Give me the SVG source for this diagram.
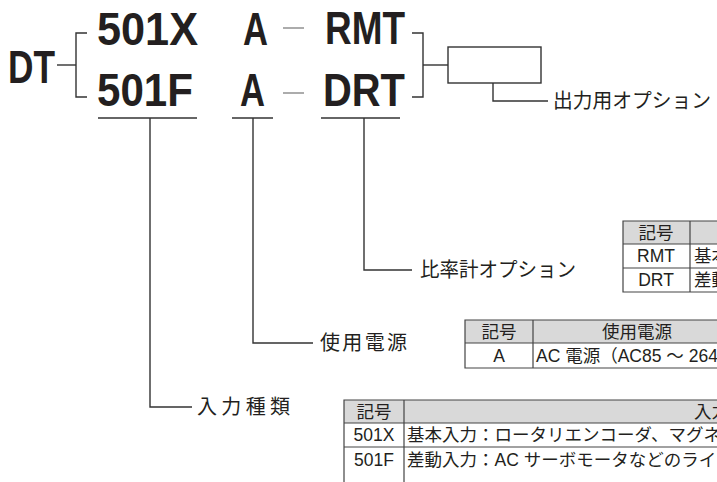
<svg xmlns="http://www.w3.org/2000/svg" width="717" height="482" viewBox="0 0 717 482">
<style>
.big{font-family:"Liberation Sans",Arial,sans-serif;font-weight:bold;font-size:46px;fill:#231f20}
.lbl{font-family:"Noto Sans CJK JP","Noto Sans",sans-serif;font-size:20px;fill:#231f20}
.tt{font-family:"Liberation Sans","Noto Sans CJK JP",sans-serif;font-size:17.5px;fill:#231f20}
.ln{stroke:#333;stroke-width:1.4;fill:none}
.dash{stroke:#888;stroke-width:1.4}
.tb{stroke:#444;stroke-width:1.2;fill:none}
.hd{fill:#d9d9d9}
</style>
<rect width="717" height="482" fill="#fff"/>
<g id="code">
<text class="big" x="8" y="83" textLength="47" lengthAdjust="spacingAndGlyphs">DT</text>
<text class="big" x="97" y="45" textLength="101" lengthAdjust="spacingAndGlyphs">501X</text>
<text class="big" x="243" y="45" textLength="25" lengthAdjust="spacingAndGlyphs">A</text>
<text class="big" x="325" y="44" textLength="80" lengthAdjust="spacingAndGlyphs">RMT</text>
<text class="big" x="97" y="106" textLength="96" lengthAdjust="spacingAndGlyphs">501F</text>
<text class="big" x="240" y="106" textLength="25" lengthAdjust="spacingAndGlyphs">A</text>
<text class="big" x="323" y="106" textLength="82" lengthAdjust="spacingAndGlyphs">DRT</text>
<line class="dash" x1="283" y1="28" x2="304" y2="28"/>
<line class="dash" x1="283" y1="93" x2="304" y2="93"/>
</g>
<g id="option-box">
<rect class="ln" x="448" y="47" width="93" height="36"/>
</g>
<g id="labels">
<text class="lbl" x="553" y="108" textLength="158" lengthAdjust="spacingAndGlyphs">出力用オプション</text>
<text class="lbl" x="420" y="277" textLength="156" lengthAdjust="spacingAndGlyphs">比率計オプション</text>
<text class="lbl" x="320" y="350" textLength="87" lengthAdjust="spacing">使用電源</text>
<text class="lbl" x="197" y="414" textLength="93" lengthAdjust="spacing">入力種類</text>
</g>
<g id="connectors">
<polyline class="ln" points="57,65 76,65"/>
<polyline class="ln" points="87,33 76,33 76,97 87,97"/>
<polyline class="ln" points="412,33 423,33 423,97 412,97"/>
<polyline class="ln" points="423,65 448,65"/>
<polyline class="ln" points="493,83 493,101 548,101"/>
<line class="ln" x1="98" y1="118" x2="197" y2="118"/>
<line class="ln" x1="232" y1="118" x2="273" y2="118"/>
<line class="ln" x1="321" y1="118" x2="400" y2="118"/>
<polyline class="ln" points="150,118 150,407 192,407"/>
<polyline class="ln" points="253,118 253,343 313,343"/>
<polyline class="ln" points="364,118 364,270 412,270"/>
</g>
<g id="table-ratio">
<rect class="hd" x="623" y="221" width="100" height="23"/>
<path class="tb" d="M723,221 H623 V292 H723 M623,244 H723 M623,268 H723 M690,221 V292"/>
<text class="tt" x="656" y="239" text-anchor="middle">記号</text>
<text class="tt" x="656" y="262" text-anchor="middle">RMT</text>
<text class="tt" x="656" y="286" text-anchor="middle">DRT</text>
<text class="tt" x="694" y="262">基本</text>
<text class="tt" x="694" y="286">差動</text>
</g>
<g id="table-power">
<rect class="hd" x="465" y="320" width="260" height="23"/>
<path class="tb" d="M723,320 H465 V368 H723 M465,343 H723 M533,320 V368"/>
<text class="tt" x="499" y="338" text-anchor="middle">記号</text>
<text class="tt" x="637" y="338" text-anchor="middle">使用電源</text>
<text class="tt" x="499" y="362" text-anchor="middle">A</text>
<text class="tt" x="536" y="362">AC 電源（AC85 ～ 264</text>
</g>
<g id="table-input">
<rect class="hd" x="344" y="400" width="380" height="23"/>
<path class="tb" d="M723,400 H344 V490 M344,423 H723 M344,447 H723 M404,400 V490"/>
<text class="tt" x="374" y="418" text-anchor="middle">記号</text>
<text class="tt" x="694" y="418">入力</text>
<text class="tt" x="374" y="441" text-anchor="middle">501X</text>
<text class="tt" x="407" y="441">基本入力：ロータリエンコーダ、マグネ</text>
<text class="tt" x="374" y="466" text-anchor="middle">501F</text>
<text class="tt" x="407" y="466">差動入力：AC サーボモータなどのライ</text>
</g>
</svg>
